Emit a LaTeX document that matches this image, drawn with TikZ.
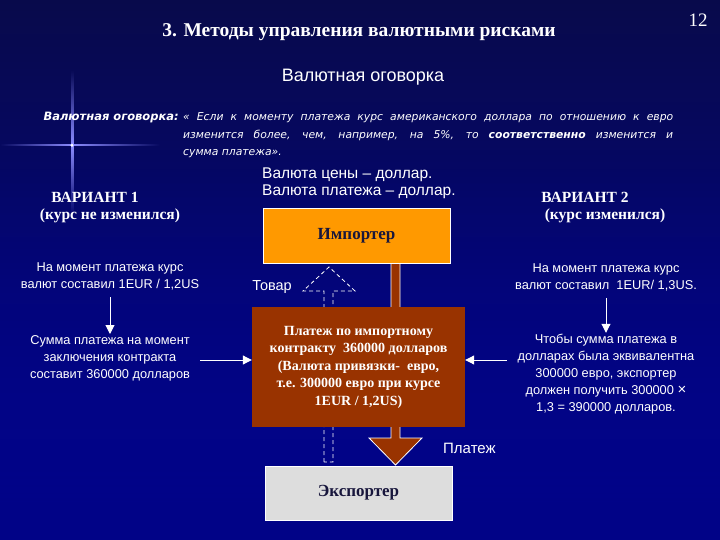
\documentclass[tikz,border=0pt]{standalone}
\usepackage{fontspec}
\setmainfont{Liberation Serif}
\setsansfont{Liberation Sans}
\newfontfamily\deffont{DejaVu Sans}
\usepackage{tikz}
\usetikzlibrary{positioning,calc,arrows.meta,fadings}
\definecolor{NavyTop}{RGB}{8,10,75}
\definecolor{NavyLow}{RGB}{0,2,150}
\definecolor{ImpOrange}{RGB}{255,153,0}
\definecolor{PayBrown}{RGB}{153,51,0}
\definecolor{ExpGray}{RGB}{221,221,221}
\definecolor{BoxText}{RGB}{24,22,60}
\tikzfading[name=fade l, left color=transparent!100, right color=transparent!0]
\tikzfading[name=fade r, left color=transparent!0, right color=transparent!100]
\tikzfading[name=fade u, top color=transparent!100, bottom color=transparent!0]
\tikzfading[name=fade d, top color=transparent!0, bottom color=transparent!100]
\tikzset{
  txt/.style={text=white,font=\sffamily\fontsize{12.8}{17}\selectfont,align=center,inner sep=1pt},
  variant/.style={text=white,font=\bfseries\fontsize{15.5}{19}\selectfont,inner sep=1pt},
  box/.style={draw=white,line width=1pt,minimum width=187pt,minimum height=54pt,
    font=\bfseries\fontsize{17}{19}\selectfont,text=BoxText},
  link/.style={draw=white,line width=1pt,-{Triangle[width=9pt,length=9pt]}},
}
\begin{document}
\begin{tikzpicture}[x=1pt,y=-1pt]
\useasboundingbox (0,0) rectangle (720,540);
\shade[top color=NavyTop,bottom color=NavyLow] (0,0) rectangle (720,540);
\fill[NavyLow!80!NavyTop,path fading=fade u] (0,150) rectangle (720,540);
% flare
\fill[white!55!blue,path fading=fade l] (0,144) rectangle (72,146.5);
\fill[white!55!blue,path fading=fade r] (72,144) rectangle (160,146.5);
\fill[white!55!blue,path fading=fade u] (71,70) rectangle (73.5,145);
\fill[white!55!blue,path fading=fade d] (71,145) rectangle (73.5,215);
\fill[white] (72,145.2) circle (1.6);

\node[text=white,font=\bfseries\fontsize{19.5}{22}\selectfont] (title) at (359,32) {3. Методы управления валютными рисками};
\node[text=white,font=\fontsize{19}{20}\selectfont] (num) at (698,20) {12};
\node[text=white,font=\sffamily\fontsize{18}{20}\selectfont] (sub) at (363,77) {Валютная оговорка};

\node[text=white,font=\deffont\bfseries\itshape\fontsize{11.5}{12}\selectfont,anchor=base east,inner sep=0pt] (deflbl) at (179,121) {Валютная оговорка:};
\node[text=white,font=\deffont\itshape\fontsize{10.8}{17.5}\selectfont,anchor=base west,text width=490pt,align=justify,inner sep=0pt] (def) at (183,121)
  {« Если к моменту платежа курс американского доллара по отношению к евро\linebreak изменится более, чем, например, на 5\%, то \textbf{соответственно} изменится и\linebreak сумма платежа».};

\node[text=white,font=\sffamily\fontsize{15.5}{17.5}\selectfont,align=left,anchor=west,inner sep=0pt] (cur) at (262,183.5) {Валюта цены – доллар.\\Валюта платежа – доллар.};

\node[variant] (var1) at (95,197) {ВАРИАНТ 1};
\node[variant] (var1b) at (110,216) {(курс не изменился)};
\node[variant] (var2) at (585,197) {ВАРИАНТ 2};
\node[variant] (var2b) at (605,216) {(курс изменился)};

% block arrows
\draw[white,line width=0.8pt,fill=PayBrown] (391,263) -- (391,438) -- (369,438) -- (395.5,465) -- (422,438) -- (400,438) -- (400,263) -- cycle;
\draw[white,line width=0.8pt,dash pattern=on 4pt off 3pt] (324,462) -- (324,291) -- (303,291) -- (329,267) -- (355,291) -- (333,291) -- (333,462) -- cycle;

\node[box,fill=ImpOrange] (imp) at (356.5,236) {Импортер};
\node[box,fill=ExpGray] (exp) at (358.5,493) {Экспортер};
\node[fill=PayBrown,minimum width=213pt,minimum height=120pt,text=white,align=center,
  font=\bfseries\fontsize{14}{17.5}\selectfont] (pay) at (358.5,367)
  {Платеж по импортному\\контракту~~360000 долларов\\(Валюта привязки-~~евро,\\т.е. 300000 евро при курсе\\1EUR / 1,2US)};

\node[txt,anchor=east] (goods) at (293,287) {\fontsize{14.5}{15}\selectfont Товар};
\node[txt,anchor=west] (paylbl) at (442,448) {\fontsize{15}{15}\selectfont Платеж};

\node[txt] (left1) at (110,276.5) {На момент платежа курс\\валют составил 1EUR / 1,2US};
\node[txt] (left2) at (110,358) {Сумма платежа на момент\\заключения контракта\\составит 360000 долларов};
\node[txt] (right1) at (606,277) {На момент платежа курс\\валют составил~~1EUR/ 1,3US.};
\node[txt] (right2) at (606,374) {Чтобы сумма платежа в\\долларах была эквивалентна\\300000 евро, экспортер\\должен получить 300000 {\fontsize{15}{17}\selectfont ×}\\1,3 = 390000 долларов.};

\draw[link] ($(left1.south)+(0,6)$) -- (left1.south |- left2.north);
\draw[link] ($(right1.south)+(0,6)$) -- (right1.south |- right2.north);
\draw[link] ($(left2.east)+(9,2)$) -- ($(left2.east -| pay.west)+(0,2)$);
\draw[link] (507,360) -- (pay.east |- 0,360);
\end{tikzpicture}
\end{document}
